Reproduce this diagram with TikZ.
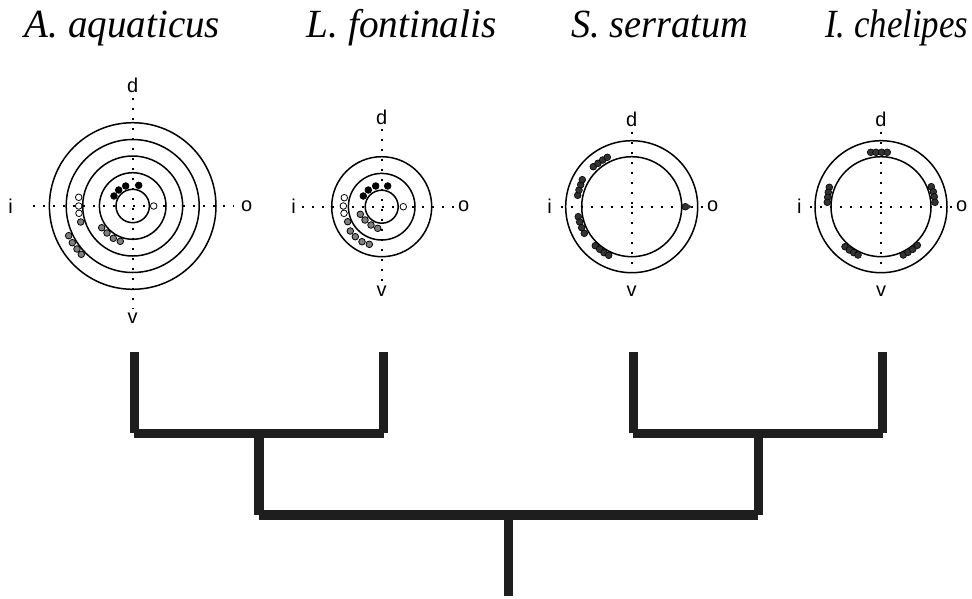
\documentclass[tikz,border=0pt]{standalone}
\usepackage{fontspec}
\usepackage{graphicx}
\setmainfont{Liberation Serif}
\setsansfont{Liberation Sans}
\definecolor{treeblack}{HTML}{1E1E1E}
\definecolor{dotgray}{HTML}{7F7F7F}
\definecolor{dotdark}{HTML}{333333}
\newcommand{\ttl}[2]{\resizebox{#1pt}{\height}{#2}}
\begin{document}
\begin{tikzpicture}[x=1pt,y=-1pt,
  title/.style={font=\fontsize{40}{48}\selectfont\itshape, anchor=base, inner sep=0},
  axlab/.style={font=\sffamily\fontsize{20}{24}\selectfont, inner sep=0},
  axis/.style={line width=2.2pt, dash pattern=on 2.2pt off 7.8pt},
  ring/.style={line width=1.5pt},
  dotblack/.style={fill=black, draw=black, line width=0.8pt},
  dotopen/.style={fill=white, draw=black, line width=0.8pt},
  dotgrey/.style={fill=dotgray, draw=black, line width=0.8pt},
  dotdk/.style={fill=dotdark, draw=black, line width=0.6pt},
  branch/.style={line width=9.5pt, draw=treeblack, line cap=butt}]
\useasboundingbox (0,0) rectangle (972,598);
\fill[white] (0,0) rectangle (972,598);

% titles
\node[title] (t1) at (122.5,37) {\ttl{195}{A. aquaticus}};
\node[title] (t2) at (401.7,37) {\ttl{190}{L. fontinalis}};
\node[title] (t3) at (660,37) {\ttl{177}{S. serratum}};
\node[title] (t4) at (896.7,37) {\ttl{143}{I. chelipes}};

% ---------- Diagram 1 ----------
\begin{scope}[shift={(132.7,206)}]
  \draw[axis] (-100,0) -- (101,0);
  \draw[axis] (0,-108) -- (0,103);
  \foreach \r in {16.7,33.3,50,66.5,83.3} \draw[ring] (0,0) circle (\r);
  \node[axlab] (i1) at (-122,0) {i};
  \node[axlab] (o1) at (114,0) {o};
  \node[axlab] (d1) at (0,-121) {d};
  \node[axlab] (v1) at (0,112) {v};
\end{scope}
\foreach \x/\y in {114/196,118.7/190,125.7/186,138.7/185.3} \draw[dotblack] (\x,\y) circle (3.3);
\foreach \x/\y in {78.7/197.3,78.7/206,79/213.3,153.7/206} \draw[dotopen] (\x,\y) circle (3.3);
\foreach \x/\y in {80.7/222,68.7/235.7,72.3/242.7,77/249,81.3/254.3,101.7/227.7,107/233,113.3/238.3,120.3/241.3} \draw[dotgrey] (\x,\y) circle (3.3);

% ---------- Diagram 2 ----------
\begin{scope}[shift={(381.7,206.7)}]
  \draw[axis] (-80,0) -- (77,0);
  \draw[axis] (0,-78) -- (0,77);
  \foreach \r in {16.5,33.3,50} \draw[ring] (0,0) circle (\r);
  \node[axlab] (i2) at (-88,0) {i};
  \node[axlab] (o2) at (82,0) {o};
  \node[axlab] (d2) at (0,-89) {d};
  \node[axlab] (v2) at (0,85) {v};
\end{scope}
\foreach \x/\y in {363.3/196,368.3/190,375.7/186,387.7/186} \draw[dotblack] (\x,\y) circle (3.3);
\foreach \x/\y in {344.3/197.7,343.3/206,344/213.3,403.3/206.7} \draw[dotopen] (\x,\y) circle (3.3);
\foreach \x/\y in {347.7/221.7,350.3/231,355.3/236.7,362/241.7,369.3/244.3,360.3/214.3,365/220,371/225,377.7/228.3} \draw[dotgrey] (\x,\y) circle (3.3);

% ---------- Diagram 3 ----------
\begin{scope}[shift={(631.7,206.7)}]
  \draw[axis] (-71,0) -- (71,0);
  \draw[axis] (0,-75) -- (0,66);
  \draw[ring] (0,0) circle (66);
  \draw[ring] (0,0) circle (50);
  \node[axlab] (i3) at (-82,0) {i};
  \node[axlab] (o3) at (81,0) {o};
  \node[axlab] (d3) at (0,-87) {d};
  \node[axlab] (v3) at (0,85) {v};
\end{scope}
\foreach \x/\y in {593.3/166.7,598/163.3,602.7/160,607.3/157.3,
  577.7/195.3,579/190,580.7/184.7,582.3/179.7,
  578.3/216.7,579.7/222,581.7/227.7,584.3/233.3,
  595.3/245.7,599.7/249.3,604/252.7,608.7/255.3,685.3/206.7} \draw[dotdk] (\x,\y) circle (3.4);
\fill[dotdark] (687.5,204) -- (692,206.7) -- (687.5,209.4) -- cycle;

% ---------- Diagram 4 ----------
\begin{scope}[shift={(881,206.7)}]
  \draw[axis] (-71,0) -- (71,0);
  \draw[axis] (0,-75) -- (0,66);
  \draw[ring] (0,0) circle (66);
  \draw[ring] (0,0) circle (50);
  \node[axlab] (i4) at (-81.7,0) {i};
  \node[axlab] (o4) at (80.7,0) {o};
  \node[axlab] (d4) at (0,-87.4) {d};
  \node[axlab] (v4) at (0,85) {v};
\end{scope}
\foreach \x/\y in {870.7/152.3,876/152.3,881.7/152.3,887.3/152.3,
  829.3/187.3,828.3/192.3,827.7/197.3,827.3/202.3,
  931.3/186.7,933.3/191.7,934.3/196.7,935/202.3,
  845/246.7,849.3/250,853.7/252.7,858/255,
  903.3/255,908/252.3,912.7/249.3,917.3/245.3} \draw[dotdk] (\x,\y) circle (3.4);

% ---------- Tree ----------
\coordinate (l1) at (134.3,351.7);
\coordinate (l2) at (383.7,351.7);
\coordinate (l3) at (633.3,351.7);
\coordinate (l4) at (882.7,351.7);
\coordinate (a1) at (134.3,433.3);
\coordinate (a2) at (383.7,433.3);
\coordinate (b1) at (633.3,433.3);
\coordinate (b2) at (882.7,433.3);
\coordinate (na) at (259,433.3);
\coordinate (nb) at (758.3,433.3);
\coordinate (ra) at (259,515);
\coordinate (rb) at (758.3,515);
\coordinate (rt) at (508.3,515);
\coordinate (root) at (508.3,596);
\draw[branch] (l1) -- (a1);
\draw[branch] (l2) -- (a2);
\draw[branch] (a1) -- (a2);
\draw[branch] (l3) -- (b1);
\draw[branch] (l4) -- (b2);
\draw[branch] (b1) -- (b2);
\draw[branch] (na) -- (ra);
\draw[branch] (nb) -- (rb);
\draw[branch] (ra) -- (rb);
\draw[branch] (rt) -- (root);
\end{tikzpicture}
\end{document}
